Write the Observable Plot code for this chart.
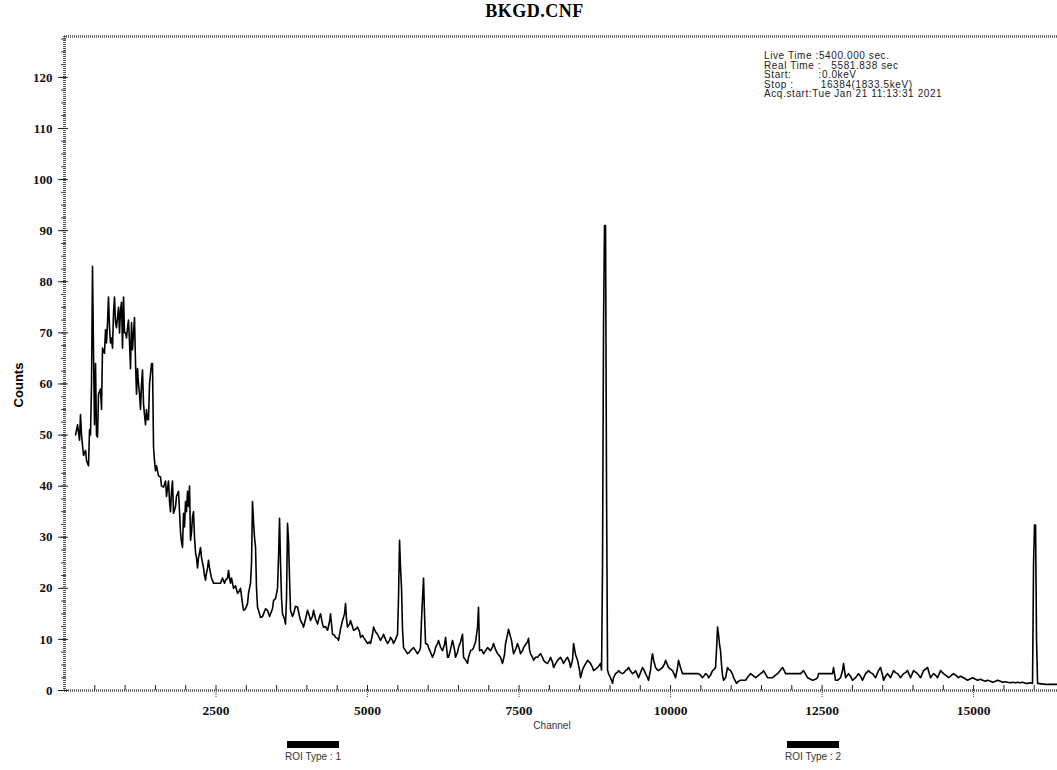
<!DOCTYPE html>
<html><head><meta charset="utf-8">
<script src="https://cdn.jsdelivr.net/npm/d3@7"></script>
<script src="https://cdn.jsdelivr.net/npm/@observablehq/plot@0.6"></script>
<style>
body{margin:0;background:#fff;}
#wrap{position:relative;width:1057px;height:770px;overflow:hidden;background:#fff;}
#wrap svg{position:absolute;left:0;top:0;}
.t{position:absolute;white-space:pre;color:#000;}
</style></head><body><div id="wrap"></div>
<script>
const titleText = "BKGD.CNF";
const xLabelText = "Channel";
const yLabelText = "Counts";
const infoLines = [
  "Live Time :5400.000 sec.",
  "Real Time :   5581.838 sec",
  "Start:        :0.0keV",
  "Stop :        16384(1833.5keV)",
  "Acq.start:Tue Jan 21 11:13:31 2021"
];
const roiLabels = ["ROI Type : 1", "ROI Type : 2"];
const xTicks = [2500, 5000, 7500, 10000, 12500, 15000];
const xMinorTicks = d3.range(500, 16384, 500);
const yTicks = [0, 10, 20, 30, 40, 50, 60, 70, 80, 90, 100, 110, 120];
const yMinorTicks = d3.range(0, 128, 2.5);

const channels = [182,215,248,264,281,297,314,347,363,396,413,429,446,462,479,495,512,528,545,561,594,611,627,660,677,693,710,726,743,759,776,792,809,825,842,858,875,891,908,924,941,957,974,990,1007,1023,1040,1056,1073,1089,1106,1122,1139,1155,1172,1188,1205,1221,1238,1254,1271,1287,1304,1320,1337,1353,1370,1386,1403,1419,1436,1452,1469,1485,1502,1518,1551,1584,1601,1634,1667,1683,1716,1733,1749,1766,1782,1799,1832,1848,1881,1898,1914,1931,1947,1964,1980,1997,2013,2030,2046,2063,2079,2096,2112,2129,2145,2162,2178,2195,2211,2228,2244,2261,2277,2294,2310,2327,2343,2360,2376,2393,2409,2426,2459,2492,2525,2574,2607,2640,2657,2690,2706,2723,2739,2756,2789,2822,2855,2888,2904,2937,2954,2987,3020,3036,3069,3086,3102,3119,3135,3152,3168,3185,3218,3234,3267,3284,3317,3350,3383,3399,3432,3449,3482,3515,3531,3548,3564,3581,3597,3630,3647,3663,3680,3696,3713,3729,3762,3779,3812,3845,3878,3894,3927,3944,3977,4010,4043,4059,4092,4109,4142,4175,4208,4224,4257,4274,4307,4340,4373,4389,4422,4455,4472,4505,4521,4554,4587,4620,4637,4653,4670,4703,4719,4752,4769,4802,4835,4868,4884,4917,4934,4967,5000,5033,5049,5082,5099,5132,5165,5198,5214,5247,5264,5297,5330,5363,5379,5412,5429,5462,5495,5511,5528,5544,5561,5577,5594,5627,5660,5693,5709,5742,5759,5792,5825,5858,5874,5891,5907,5924,5940,5957,5990,6006,6039,6072,6105,6122,6155,6171,6204,6237,6270,6287,6320,6336,6369,6402,6435,6452,6485,6501,6534,6567,6584,6617,6650,6666,6699,6732,6749,6782,6815,6831,6848,6881,6914,6947,6980,7013,7029,7062,7079,7112,7145,7161,7194,7227,7260,7277,7310,7326,7359,7376,7392,7409,7442,7475,7508,7524,7557,7574,7607,7640,7656,7673,7689,7722,7739,7772,7805,7838,7854,7887,7904,7937,7970,8003,8019,8052,8069,8102,8135,8168,8184,8217,8234,8267,8300,8333,8349,8382,8399,8432,8465,8498,8514,8547,8564,8597,8630,8663,8679,8712,8729,8762,8795,8828,8844,8861,8877,8894,8910,8927,8943,8960,8976,9009,9042,9059,9092,9125,9141,9174,9207,9240,9257,9290,9306,9339,9372,9405,9422,9455,9471,9504,9537,9570,9587,9620,9636,9669,9686,9702,9719,9752,9785,9801,9834,9867,9900,9917,9950,9966,9999,10032,10065,10082,10115,10131,10164,10197,10247,10296,10329,10379,10412,10461,10494,10527,10560,10577,10610,10626,10659,10692,10725,10742,10758,10775,10791,10808,10824,10841,10857,10874,10907,10940,10956,10989,11022,11039,11072,11088,11121,11154,11187,11237,11270,11319,11352,11402,11435,11484,11517,11534,11567,11600,11649,11682,11732,11765,11814,11847,11880,11897,11946,11979,12062,12144,12194,12227,12260,12309,12342,12392,12425,12441,12557,12672,12689,12722,12755,12804,12837,12854,12887,12936,12969,13002,13052,13101,13134,13167,13217,13266,13299,13332,13382,13431,13464,13497,13514,13547,13580,13629,13679,13712,13745,13794,13844,13877,13910,13959,14009,14042,14075,14124,14174,14207,14240,14289,14339,14372,14405,14454,14504,14537,14586,14619,14669,14702,14751,14784,14834,14900,14949,14982,15032,15065,15114,15147,15197,15230,15279,15312,15362,15395,15444,15477,15527,15560,15609,15642,15692,15725,15774,15807,15857,15890,15939,15972,15989,16005,16022,16038,16055,16187,16384];

const counts = [50,52,49,54,50,48,46,47,45,44,51,50,60,83,66,52,64,50,49.6,58,59,55,67,66,70.6,68,72,77,71,68,69,67,74,77,72,71,73,75,70,74.5,76,67,77,70,70,69,71,72.5,68,63,72,66.7,70,73,64,58,63,60,58,55,60,62.7,56,54,52,55,53,53,60,62,64,64,47.6,45,43,44,42,41.8,40,39.8,41,38,41,37,35,39,41,34.7,36,38,39,35,31,29,28,34.7,32,37,35,39,36,40,29.4,31,34,35,30,27,26,24,26,27,28,26,25,24,22.5,21.6,23,24,25.5,24,23,22,21,21,21,21,22,21,21.6,22,23.5,22,21,22,20,20.5,19,19.5,20,17,15.7,16,17,19,21,25,37,33,30,28,20,16.3,15,14.3,14.5,15,16,15.7,14.5,15,16,17.6,18,20,26,33.7,25,18,15,14,13,18,32.7,29.4,22,15.7,14.5,15,16.5,16.3,14.5,13.7,13,12.4,14,15.7,14.5,13.7,14.5,15.7,14,13,14.5,15,13,12.4,12.5,11.8,13.5,15,11,10.8,10.4,10.2,9.8,12,13.7,15,17,14,12.4,13,13.7,12.5,11.8,12,12.4,11.5,10.4,10.8,10.4,9.8,9.2,9.5,9.2,11,12.4,11.5,11,10.2,9.8,10.5,11,10,9.2,9.8,10.4,9.8,9.2,10,11,18,29.4,24,20,12,8.4,7.8,7.2,7.5,7.8,8.2,8.4,7.8,7.2,7.8,8.4,14,18,22,15,9.2,9,8.4,7.5,6.5,7.5,8.4,9.2,9.8,8.5,7.8,9,10.4,6.5,6.5,8,9.8,8,6.5,7.5,8.4,9.5,11,6.5,6,5.3,6.5,7.8,8,8.4,9.5,12.4,16.3,7.8,8,7.2,7.8,8.4,8,7.8,8.5,9.2,8,7.2,7,6.5,5.3,7,9.2,11,12,10.5,9.8,8.5,7.2,8,9.2,8,7.2,7.8,8.4,9,9.5,10.2,8,7.2,6.5,5.9,6.5,6.5,7,7.2,6.5,5.9,5.5,5.3,6,6.5,5.5,4.5,5.2,5.9,6.3,6.5,5.8,5.3,6,6.5,5.5,4.5,6,9.2,7,5.9,4,2.5,4,4.5,5.2,5.9,5.5,5.3,4.5,3.9,4.2,4.5,5,5.3,4,24,72,91,91,40,4,3.3,2.5,1.4,2.5,3.3,3.6,3.9,3.5,3.3,3.6,3.9,4.2,4.5,3.8,3.3,3.6,3.9,3,2.5,3.5,4.5,3.8,3.3,2.5,2,4,6,7.2,6,4.5,4,3.9,4.2,4.5,5.2,5.9,5,4.5,4.2,3.9,3,2.5,4.5,5.9,4.5,3.3,3.3,3.3,3.3,3.3,3.3,3.3,3,2.5,3,3.3,3,2.5,3,3.9,4.2,4.5,8,12.4,11,9,7.8,5,3,2,2.5,4.5,4.2,3.9,3.2,2.5,1.8,1.4,1.8,2,2,2,2.6,3.3,3,2.5,2.8,3.3,3.6,3.9,3.2,2.5,2.5,2.5,3,3.3,4,4.5,3.8,3.3,3.3,3.3,3.3,3.3,3.9,3.2,2.5,2.2,2,2.2,2.5,3.3,3.3,3.3,4.5,2,2,2.5,3.9,5.3,2.5,3.3,2.8,2,2.5,3.3,2.8,2,3.3,3.9,3.5,3.3,2.5,3.9,4.5,3,2,2.8,3.3,2.5,3.9,3.5,3.3,2.5,3.3,3.5,3.9,2.5,3.9,3.6,3.3,2.5,3.9,4.2,4.5,2.5,3.3,3,2.5,3.9,3.3,3,2.5,2.8,3.3,3,2.5,2.8,2.5,2,2.3,2.5,2.2,2,2.2,2,1.8,2,1.8,1.6,1.8,2,1.8,1.6,1.7,1.6,1.5,1.6,1.5,1.6,1.5,1.6,1.4,1.4,1.5,1.4,25,32.4,32.4,10,1.4,1.2,1.2];

const spectrum = channels.map((ch, i) => ({ch, c: counts[i]}));

const serif = "'Liberation Serif','DejaVu Serif',serif";
const sans = "'Liberation Sans',Arial,sans-serif";
const fmt = d3.format("d");

const plot = Plot.plot({
  width: 1057, height: 770,
  marginLeft: 64, marginRight: 0, marginTop: 36, marginBottom: 80,
  x: {domain: [0, 16384]},
  y: {domain: [0, 128]},
  style: {background: "transparent", overflow: "visible"},
  marks: [
    Plot.ruleY([128], {stroke: "#555", strokeWidth: 2.5, strokeDasharray: "1,1"}),
    Plot.ruleY([0], {stroke: "#555", strokeWidth: 2.5, strokeDasharray: "1,1"}),
    Plot.ruleX([0], {stroke: "#555", strokeWidth: 3, strokeDasharray: "1,1"}),
    Plot.axisY(yMinorTicks, {tickSize: 5, dx: 2, tickFormat: () => "", stroke: "#444", label: null}),
    Plot.axisY(yTicks, {tickSize: 10, dx: 4, tickPadding: 6, tickFormat: fmt, stroke: "#222", fontSize: 13, fontWeight: "bold", fontFamily: serif, fill: "#111", label: null}),
    Plot.axisX(xMinorTicks, {tickSize: 5, dy: -5, tickFormat: () => "", stroke: "#222", label: null}),
    Plot.axisX(xTicks, {tickSize: 8, tickPadding: 7, tickFormat: fmt, stroke: "#444", strokeDasharray: "1,1", fontSize: 13.5, fontWeight: "bold", fontFamily: serif, fill: "#111", label: null}),
    Plot.line(spectrum, {x: "ch", y: "c", stroke: "#000", strokeWidth: 1.6})
  ]
});
const wrap = document.getElementById("wrap");
wrap.appendChild(plot);

function addText(txt, css) {
  const d = document.createElement("div");
  d.className = "t";
  d.textContent = txt;
  Object.assign(d.style, css);
  wrap.appendChild(d);
  return d;
}
addText(titleText, {left: "0px", width: "1057px", textAlign: "center", top: "1px", font: `bold 18px ${serif}`, letterSpacing: "0.5px", paddingLeft: "6px"});
addText(xLabelText, {left: "552px", top: "720px", transform: "translateX(-50%)", font: `10px ${sans}`, color: "#333"});
addText(yLabelText, {left: "18px", top: "385px", transform: "translate(-50%,-50%) rotate(-90deg)", font: `bold 13px ${sans}`});
addText(infoLines.join("\n"), {left: "764px", top: "51px", font: `10px ${sans}`, lineHeight: "9.5px", color: "#222", letterSpacing: "0.6px"});
const roiX = [313, 813];
roiLabels.forEach((lab, i) => {
  const bar = document.createElement("div");
  Object.assign(bar.style, {position: "absolute", left: (roiX[i] - 26) + "px", top: "741px", width: "52px", height: "7px", background: "#000"});
  wrap.appendChild(bar);
  addText(lab, {left: roiX[i] + "px", top: "751px", transform: "translateX(-50%)", font: `10px ${sans}`, color: "#333"});
});
</script>
</body></html>
